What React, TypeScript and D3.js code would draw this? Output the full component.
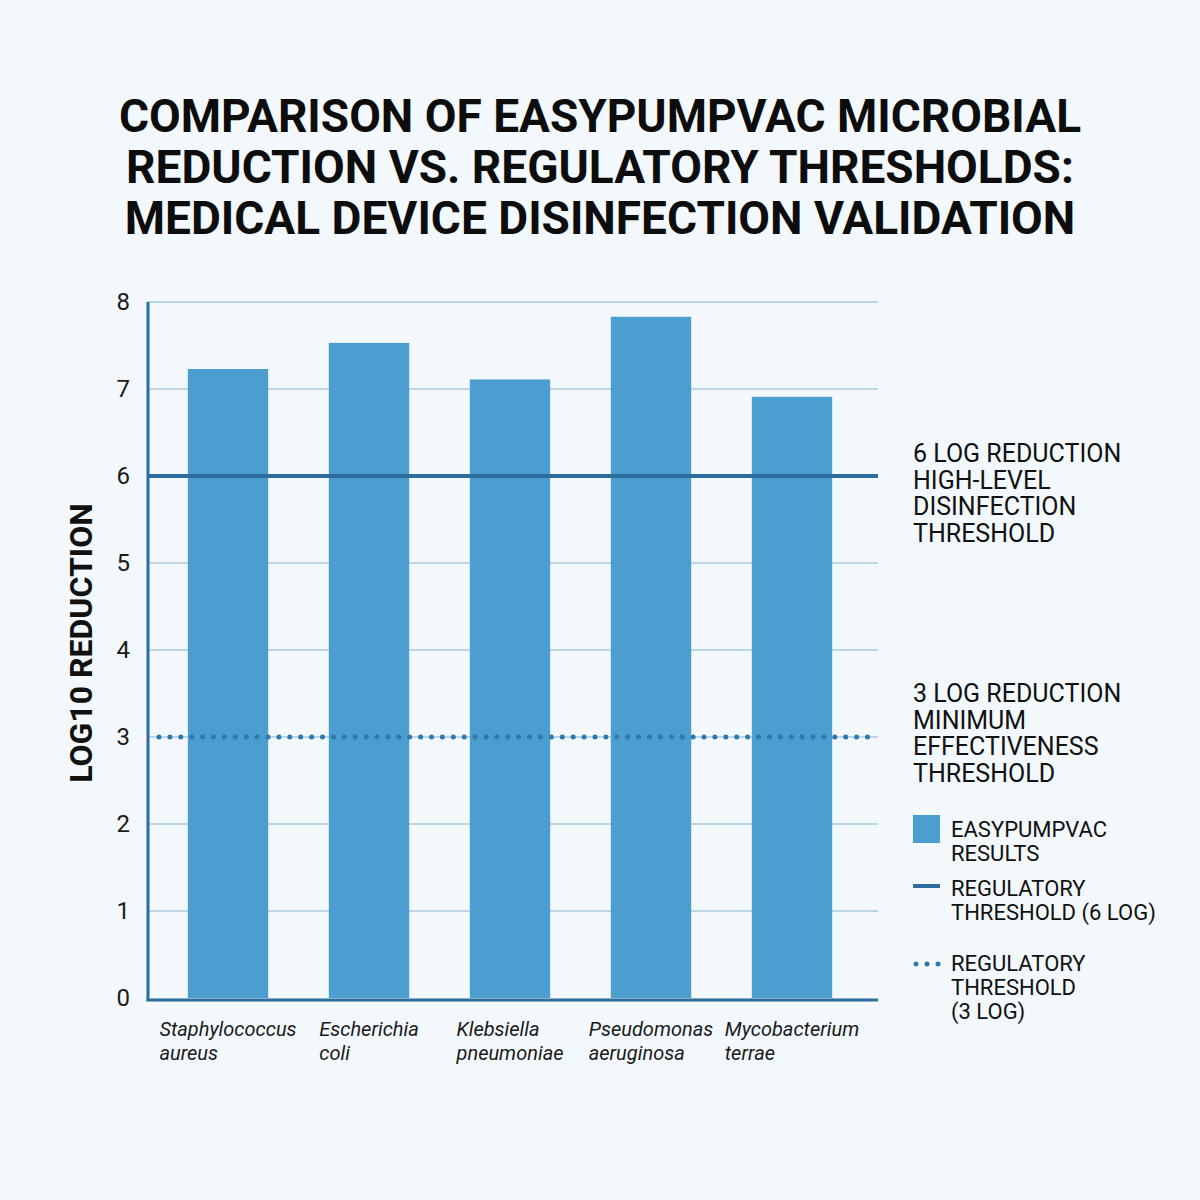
import { useEffect, useRef } from "react";
import * as d3 from "d3";

const TITLE = [
  "COMPARISON OF EASYPUMPVAC MICROBIAL",
  "REDUCTION VS. REGULATORY THRESHOLDS:",
  "MEDICAL DEVICE DISINFECTION VALIDATION",
];
const ORGANISMS = ["S. aureus", "E. coli", "K. pneumoniae", "P. aeruginosa", "M. terrae"];
const ORGANISM_LINES = [
  ["Staphylococcus", "aureus"],
  ["Escherichia", "coli"],
  ["Klebsiella", "pneumoniae"],
  ["Pseudomonas", "aeruginosa"],
  ["Mycobacterium", "terrae"],
];
const LOG_REDUCTION = [7.23, 7.53, 7.11, 7.83, 6.91];
const Y_TICKS = [0, 1, 2, 3, 4, 5, 6, 7, 8];
const HIGH_LEVEL = 6;
const MINIMUM = 3;
const HIGH_LEVEL_NOTE = ["6 LOG REDUCTION", "HIGH-LEVEL", "DISINFECTION", "THRESHOLD"];
const MINIMUM_NOTE = ["3 LOG REDUCTION", "MINIMUM", "EFFECTIVENESS", "THRESHOLD"];
const LEGEND = [
  ["EASYPUMPVAC", "RESULTS"],
  ["REGULATORY", "THRESHOLD (6 LOG)"],
  ["REGULATORY", "THRESHOLD", "(3 LOG)"],
];

const BG = "#f3f8fc";
const BAR = "#4b9ecf";
const AXIS = "#2b6d9d";
const GRID = "#a9cbe0";
const DOTS = "#2f79ad";
const FONT = "Roboto, 'Noto Sans', sans-serif";

export default function App() {
  const ref = useRef<SVGSVGElement>(null);

  useEffect(() => {
    if (!ref.current) return;
    const W = 1200, H = 1200;
    const svg = d3.select(ref.current).attr("width", W).attr("height", H);
    svg.selectAll("*").remove();

    svg.append("rect").attr("width", W).attr("height", H).attr("fill", BG);

    const plotL = 148, plotR = 878;
    const x = d3.scaleBand<string>().domain(ORGANISMS)
      .range([157.5, 862.5]).paddingInner(0.43).paddingOuter(0.215);
    const y = d3.scaleLinear().domain([0, 8]).range([998, 302]);

    // Title
    TITLE.forEach((line, i) => {
      svg.append("text")
        .attr("x", 600).attr("y", 132 + i * 51)
        .attr("text-anchor", "middle")
        .attr("font-family", FONT).attr("font-weight", 700).attr("font-size", 46)
        .attr("fill", "#0d0d0d").text(line);
    });

    // Gridlines
    svg.append("g").selectAll("line").data(Y_TICKS.filter(t => t > 0)).join("line")
      .attr("x1", plotL).attr("x2", plotR)
      .attr("y1", d => y(d)).attr("y2", d => y(d))
      .attr("stroke", GRID).attr("stroke-width", 1.5);

    // Bars
    svg.append("g").selectAll("rect").data(LOG_REDUCTION).join("rect")
      .attr("x", (_, i) => x(ORGANISMS[i])!)
      .attr("width", x.bandwidth())
      .attr("y", d => y(d))
      .attr("height", d => y(0) - y(d))
      .attr("fill", BAR);

    // Thresholds
    svg.append("line")
      .attr("x1", plotL).attr("x2", plotR)
      .attr("y1", y(HIGH_LEVEL)).attr("y2", y(HIGH_LEVEL))
      .attr("stroke", AXIS).attr("stroke-width", 4);
    svg.append("line")
      .attr("x1", 159).attr("x2", plotR)
      .attr("y1", y(MINIMUM)).attr("y2", y(MINIMUM))
      .attr("stroke", DOTS).attr("stroke-width", 5)
      .attr("stroke-linecap", "round").attr("stroke-dasharray", "0 10.9");

    // Axes
    svg.append("line").attr("x1", plotL).attr("x2", plotL)
      .attr("y1", y(8)).attr("y2", y(0) + 3)
      .attr("stroke", AXIS).attr("stroke-width", 3);
    svg.append("line").attr("x1", plotL - 1.5).attr("x2", plotR)
      .attr("y1", y(0) + 2).attr("y2", y(0) + 2)
      .attr("stroke", AXIS).attr("stroke-width", 3);

    svg.append("g").selectAll("text").data(Y_TICKS).join("text")
      .attr("x", 130).attr("y", d => y(d)).attr("dy", "0.35em")
      .attr("text-anchor", "end")
      .attr("font-family", FONT).attr("font-size", 24).attr("fill", "#1a1a1a")
      .text(d => d);

    svg.append("text")
      .attr("transform", `translate(92,643) rotate(-90)`)
      .attr("text-anchor", "middle")
      .attr("font-family", FONT).attr("font-weight", 700).attr("font-size", 32)
      .attr("fill", "#111").text("LOG10 REDUCTION");

    // Category labels: left-aligned block centred under each bar
    ORGANISM_LINES.forEach((lines, i) => {
      const cx = x(ORGANISMS[i])! + x.bandwidth() / 2;
      const g = svg.append("g");
      const texts = lines.map((l, j) => g.append("text")
        .attr("y", 1036 + j * 24)
        .attr("font-family", FONT).attr("font-style", "italic").attr("font-size", 20)
        .attr("fill", "#1a1a1a").text(l));
      const w = Math.max(...texts.map(t => (t.node() as SVGTextElement).getComputedTextLength()));
      texts.forEach(t => t.attr("x", cx - w / 2));
    });

    // Threshold notes
    const note = (lines: string[], y0: number) => lines.forEach((l, j) => {
      svg.append("text").attr("x", 913).attr("y", y0 + j * 26.5)
        .attr("font-family", FONT).attr("font-size", 25).attr("fill", "#111").text(l);
    });
    note(HIGH_LEVEL_NOTE, 462);
    note(MINIMUM_NOTE, 702);

    // Legend
    const lg = svg.append("g");
    lg.append("rect").attr("x", 913).attr("y", 815).attr("width", 27).attr("height", 28).attr("fill", BAR);
    lg.append("line").attr("x1", 913).attr("x2", 940).attr("y1", 886).attr("y2", 886)
      .attr("stroke", AXIS).attr("stroke-width", 4);
    lg.append("line").attr("x1", 916).attr("x2", 940).attr("y1", 964).attr("y2", 964)
      .attr("stroke", DOTS).attr("stroke-width", 5)
      .attr("stroke-linecap", "round").attr("stroke-dasharray", "0 11");
    const legendY = [837, 896, 971];
    LEGEND.forEach((lines, i) => lines.forEach((l, j) => {
      lg.append("text").attr("x", 951).attr("y", legendY[i] + j * 24)
        .attr("font-family", FONT).attr("font-size", 22).attr("fill", "#111").text(l);
    }));
  }, []);

  return (
    <svg ref={ref} style={{ position: "absolute", left: 0, top: 0, display: "block" }} />
  );
}
